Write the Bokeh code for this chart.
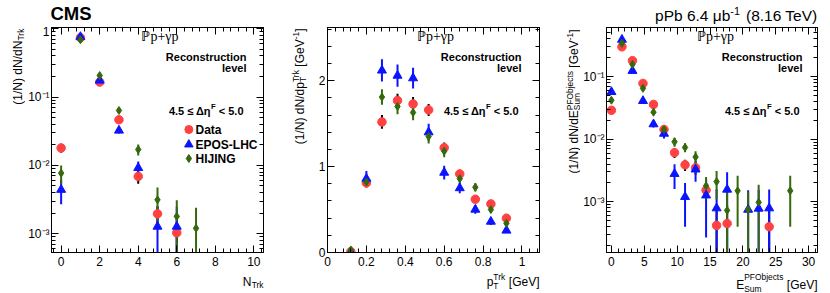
import numpy as np
from bokeh.plotting import figure
from bokeh.layouts import row, column
from bokeh.models import (Label, FixedTicker, LinearAxis, LogAxis, CustomJSTickFormatter,
                          Range1d, LinearScale, ColumnDataSource)
from bokeh.embed import file_html
from bokeh.resources import INLINE

# ---------------- data ----------------
nan = float("nan")

ntrk_x = [0, 1, 2, 3, 4, 5, 6, 7]
ntrk_data = [0.018, 0.74, 0.166, 0.0465, 0.0069, 0.00195, 0.00103, nan]
ntrk_data_err = [0.0027, 0.01, 0.004, 0.002, 0.0015, 0.0006, 0.0006, nan]
ntrk_epos = [0.0044, 0.76, 0.175, 0.0324, 0.0092, 0.00127, 0.00127, nan]
ntrk_epos_err = [0.0017, 0.02, 0.006, 0.003, 0.0022, 0.00118, 0.0012, nan]
ntrk_hij = [0.0077, 0.69, 0.207, 0.0637, 0.0171, 0.00313, 0.00179, 0.0012]
ntrk_hij_err = [0.0023, 0.02, 0.007, 0.004, 0.0032, 0.0016, 0.0013, 0.0012]

pt_x = [0.12, 0.20, 0.28, 0.36, 0.44, 0.52, 0.60, 0.68, 0.76, 0.84, 0.92]
pt_data = [0.01, 0.81, 1.52, 1.77, 1.73, 1.66, 1.22, 0.915, 0.62, 0.566, 0.40]
pt_data_err = [0.01, 0.05, 0.08, 0.08, 0.08, 0.07, 0.06, 0.05, 0.04, 0.04, 0.03]
pt_epos = [0.005, 0.86, 2.12, 2.06, 2.03, 1.40, 0.93, 0.75, 0.50, 0.36, 0.256]
pt_epos_err = [0.02, 0.09, 0.13, 0.13, 0.12, 0.10, 0.08, 0.06, 0.05, 0.04, 0.03]
pt_hij = [0.03, 0.82, 1.81, 1.70, 1.63, 1.35, 1.18, 0.86, 0.76, 0.50, 0.34]
pt_hij_err = [0.02, 0.06, 0.09, 0.09, 0.09, 0.08, 0.07, 0.06, 0.05, 0.04, 0.04]

esum_x = [0.0, 1.6, 3.2, 4.8, 6.4, 8.0, 9.6, 11.2, 12.8, 14.4, 16.0, 17.6,
          19.2, 20.8, 22.4, 24.0, 25.6, 27.2]
esum_data = [0.029, 0.30, 0.18, 0.078, 0.036, 0.0143, 0.0061, 0.0039, 0.0035, 0.00153,
             0.00042, 0.00045, nan, nan, nan, 0.0004, nan, nan]
esum_data_err = [0.002, 0.01, 0.006, 0.003, 0.0015, 0.0008, 0.0011, 0.0008, 0.0008, 0.0004,
                 0.0004, 0.00045, nan, nan, nan, 0.0004, nan, nan]
esum_epos = [0.057, 0.39, 0.124, 0.041, 0.0174, 0.0123, 0.0028, 0.0012, 0.0033, 0.00127,
             0.00079, 0.00157, nan, 0.00075, 0.00078, 0.00079, nan, nan]
esum_epos_err = [0.004, 0.02, 0.008, 0.004, 0.002, 0.002, 0.0012, 0.0008, 0.0012, 0.001,
                 0.0008, 0.0014, nan, 0.00078, 0.00078, 0.00078, nan, nan]
esum_hij = [0.042, 0.34, 0.157, 0.065, 0.027, 0.0143, 0.0091, 0.0074, 0.0052, 0.0018,
            0.0021, 0.00073, 0.0015, 0.00075, 0.00098, nan, nan, 0.0015]
esum_hij_err = [0.003, 0.01, 0.006, 0.004, 0.002, 0.0015, 0.0015, 0.0012, 0.0012, 0.0007,
                0.001, 0.0007, 0.0011, 0.0007, 0.0009, nan, nan, 0.0011]

series_names = ["Data", "EPOS-LHC", "HIJING"]

# tick values
ntrk_ticks = [0, 2, 4, 6, 8, 10]
pt_ticks = [0, 0.2, 0.4, 0.6, 0.8, 1.0]
pt_yticks = [0, 1, 2]
esum_ticks = [0, 5, 10, 15, 20, 25, 30]
log_ticks = [1e-3, 1e-2, 1e-1, 1.0]

# ---------------- styling / layout constants ----------------
RED = "#ff4141"
BLUE = "#0a14ff"
GREEN = "#356a0c"
FONT = "Liberation Sans"
W = 830
HDR_H = 24          # header strip height
MID_H = 246         # panel row height
XL_H = 293 - HDR_H - MID_H
FT = 27             # frame top (page y)
FB = 252            # frame bottom (page y)
MID_BOTTOM = HDR_H + MID_H

AW = {' ': 278, '(': 333, ')': 333, '/': 278, '[': 278, ']': 278, '-': 333, '.': 278,
      '<': 584, 'N': 722, 'T': 611, 'G': 778, 'V': 667, 'E': 667, 'S': 667, 'P': 667,
      'F': 611, 'O': 778, 'd': 556, 'r': 333, 'k': 500, 'p': 556, 'e': 556, 'u': 556,
      'm': 833, 'b': 556, 'j': 222, 'c': 500, 't': 278, 's': 500, 'μ': 576}


def tw(s, size):
    return sum(AW.get(c, 556) for c in s) / 1000.0 * size


log_minor = [m * 10.0 ** k for k in range(-4, 1) for m in range(2, 10)]

LOG_CODE = """
const e = Math.round(Math.log10(tick));
if (e == 0) { return "1"; }
const sup = {"-": "\\u207b", "0": "\\u2070", "1": "\\u00b9", "2": "\\u00b2", "3": "\\u00b3", "4": "\\u2074"};
return "10" + String(e).split("").map(c => sup[c]).join("");
"""
DEC_CODE = "return (Math.round(tick*10)/10).toString();"
EMPTY_CODE = "return '';"


def style_axis(ax, ticker, code=None, labels=True, standoff=4):
    ax.ticker = ticker
    ax.major_tick_in = 7
    ax.major_tick_out = 0
    ax.minor_tick_in = 4
    ax.minor_tick_out = 0
    ax.axis_line_color = "black"
    ax.major_tick_line_color = "black"
    ax.minor_tick_line_color = "black"
    ax.major_label_text_font = FONT
    ax.major_label_text_font_size = "12px"
    ax.major_label_text_color = "black"
    ax.major_label_standoff = standoff
    ax.axis_label = None
    if code is not None:
        ax.formatter = CustomJSTickFormatter(code=code)
    if not labels:
        ax.formatter = CustomJSTickFormatter(code=EMPTY_CODE)
        ax.major_label_text_font_size = "1px"
        ax.major_label_standoff = 0


def make_panel(width, bl, br, xr, yr, ylog, xt, xminor, yt, yminor, xcode=None, ycode=None):
    p = figure(width=width, height=MID_H, x_range=Range1d(*xr), y_range=Range1d(*yr),
               y_axis_type="log" if ylog else "linear", output_backend="svg",
               toolbar_location=None, min_border_left=bl, min_border_right=br,
               min_border_top=FT - HDR_H, min_border_bottom=MID_BOTTOM - FB)
    p.grid.visible = False
    p.outline_line_color = "black"
    p.outline_line_width = 1
    top = LinearAxis()
    right = LogAxis() if ylog else LinearAxis()
    p.add_layout(top, "above")
    p.add_layout(right, "right")
    style_axis(p.below[0], FixedTicker(ticks=xt, minor_ticks=xminor), xcode, standoff=4)
    style_axis(top, FixedTicker(ticks=xt, minor_ticks=xminor), None, labels=False)
    style_axis(p.left[0], FixedTicker(ticks=yt, minor_ticks=yminor), ycode, standoff=2)
    style_axis(right, FixedTicker(ticks=yt, minor_ticks=yminor), None, labels=False)
    return p


def text_strip(width, height):
    f = figure(width=width, height=height, x_range=Range1d(0, 1), y_range=Range1d(0, 1),
               output_backend="svg", toolbar_location=None, min_border=0,
               x_axis_location=None, y_axis_location=None)
    f.grid.visible = False
    f.outline_line_color = None
    return f


def add_series(p, xs, sets):
    srcs = []
    for (y, e, color, bar) in sets:
        x = np.asarray(xs, float)
        y = np.asarray(y, float)
        e = np.asarray(e, float)
        src = ColumnDataSource(dict(x=x, y=y, lo=np.maximum(y - e, 1e-7), hi=y + e))
        p.segment(x0="x", y0="lo", x1="x", y1="hi", source=src, line_color=bar, line_width=2)
        srcs.append(src)
    markers = [("circle", 8.5, RED), ("triangle", 9, BLUE), ("diamond", 8, GREEN)]
    for src, (mk, sz, col) in zip(srcs, markers):
        p.scatter(x="x", y="y", source=src, marker=mk, size=sz, fill_color=col, line_color=col)


def T(f, left, bottom, px, py, text, size, bold=False, align="left", baseline="middle",
      angle=0.0, font=FONT):
    """Place text at page coords (px, py) in figure f whose frame starts at (left, bottom)."""
    f.add_layout(Label(x=px - left, y=bottom - py, x_units="screen", y_units="screen", text=text,
                       text_font=font, text_font_size=f"{size}px",
                       text_font_style="bold" if bold else "normal",
                       text_align=align, text_baseline=baseline, angle=angle,
                       text_color="black"))


def vtitle(f, left, top_y, xm, pieces):
    """Rotated (reading upward) composite title; groups listed from the top end down.
    Pieces in a group share one slot (sub/superscripts)."""
    y = top_y
    for grp in pieces:
        slot = max(tw(t, s) for (t, s, dx) in grp)
        for (t, s, dx) in grp:
            w = tw(t, s)
            cy = y + slot - w / 2.0
            if t.strip():
                # the strip frames are aligned with the panel frames (bottom at FB)
                T(f, left, FB, xm + dx, cy, t, s, align="center", angle=ROT)
        y += slot


ROT = np.pi / 2
S = 12
SS = 8.4

# ---------------- strips / panels positions ----------------
YL1_L, YL1_W = 0, 25
P1_L = YL1_L + YL1_W
FL1, FR1 = 50, 263
YL2_L = 270
YL2_W = 39
P2_L = YL2_L + YL2_W
FL2, FR2 = 327, 539
YL3_L = 548
YL3_W = 32
P3_L = YL3_L + YL3_W
FL3, FR3 = 603, 817

# ---------------- panel 1 ----------------
p1 = make_panel(YL2_L - P1_L, FL1 - P1_L, YL2_L - FR1, (-0.5, 10.5), (5.3e-4, 1.045), True,
                ntrk_ticks, [round(-0.4 + 0.4 * i, 2) for i in range(28)],
                log_ticks, log_minor, None, LOG_CODE)
add_series(p1, ntrk_x, [(ntrk_data, ntrk_data_err, RED, "black"),
                        (ntrk_epos, ntrk_epos_err, BLUE, BLUE),
                        (ntrk_hij, ntrk_hij_err, GREEN, GREEN)])

# ---------------- panel 2 ----------------
p2 = make_panel(YL3_L - P2_L, FL2 - P2_L, YL3_L - FR2, (0, 1.09), (0, 2.62), False,
                pt_ticks, [round(0.04 * i, 2) for i in range(28)],
                pt_yticks, [round(0.2 * i, 1) for i in range(14)], DEC_CODE, None)
add_series(p2, pt_x, [(pt_data, pt_data_err, RED, "black"),
                      (pt_epos, pt_epos_err, BLUE, BLUE),
                      (pt_hij, pt_hij_err, GREEN, GREEN)])

# ---------------- panel 3 ----------------
p3 = make_panel(W - P3_L, FL3 - P3_L, W - FR3, (-0.75, 31.35), (1.55e-4, 0.61), True,
                esum_ticks, list(range(0, 32)),
                log_ticks, log_minor, None, LOG_CODE)
add_series(p3, esum_x, [(esum_data, esum_data_err, RED, "black"),
                        (esum_epos, esum_epos_err, BLUE, BLUE),
                        (esum_hij, esum_hij_err, GREEN, GREEN)])

# ---------------- texts inside panels ----------------
for p, fl, fr in [(p1, FL1, FR1), (p2, FL2, FR2), (p3, FL3, FR3)]:
    T(p, fl, FB, (fl + fr) / 2 + 2, 35.5, "\u2119p+\u03b3p", 14, font="Liberation Serif", align="center")
    T(p, fl, FB, fr - 18, 56, "Reconstruction", 11, bold=True, align="right")
    T(p, fl, FB, fr - 18, 67.5, "level", 11, bold=True, align="right")
    R = fr - 21
    T(p, fl, FB, R, 110, "< 5.0", 11, bold=True, align="right")
    T(p, fl, FB, R - tw(" < 5.0", 11), 106, "F", 7.7, bold=True, align="right")
    T(p, fl, FB, R - tw(" < 5.0", 11) - tw("F", 7.7), 110, "4.5 \u2264 \u0394\u03b7", 11,
      bold=True, align="right")

# legend (panel 1)
p1.extra_x_ranges = {"px": Range1d(0, FR1 - FL1)}
p1.extra_y_ranges = {"py": Range1d(0, FB - FT)}
p1.extra_x_scales = {"px": LinearScale()}
p1.extra_y_scales = {"py": LinearScale()}
leg_rows = [129, 144, 158]
leg_marks = [("circle", 8, RED), ("triangle", 8.5, BLUE), ("diamond", 8, GREEN)]
for name, py, (mk, sz, col) in zip(series_names, leg_rows, leg_marks):
    p1.scatter(x=[188 - FL1], y=[FB - py], marker=mk, size=sz, fill_color=col, line_color=col,
               x_range_name="px", y_range_name="py")
    T(p1, FL1, FB, 194, py, name, 12, bold=True)

# ---------------- header strip ----------------
hdr = text_strip(W, HDR_H)
T(hdr, 0, HDR_H, 50, 12.5, "CMS", 18.5, bold=True)
hs = 15.5
hr = FR3
T(hdr, 0, HDR_H, hr, 15, "(8.16 TeV)", hs, align="right")
hr -= tw(" (8.16 TeV)", hs)
T(hdr, 0, HDR_H, hr, 10, "-1", round(hs * 0.7, 1), align="right")
hr -= tw("-1", hs * 0.7)
T(hdr, 0, HDR_H, hr, 15, "pPb 6.4 \u03bcb", hs, align="right")

# ---------------- x-title strip ----------------
xl = text_strip(W, XL_H)
B = 293
T(xl, 0, B, FR1, 284, "Trk", SS, align="right", baseline="alphabetic")
T(xl, 0, B, FR1 - tw("Trk", SS), 281, "N", S, align="right", baseline="alphabetic")

xr = FR2
T(xl, 0, B, xr, 281, "[GeV]", S, align="right", baseline="alphabetic")
xr -= tw(" [GeV]", S) + tw("Trk", SS)
T(xl, 0, B, xr, 285, "T", SS, baseline="alphabetic")
T(xl, 0, B, xr, 276.5, "Trk", SS, baseline="alphabetic")
T(xl, 0, B, xr, 281, "p", S, align="right", baseline="alphabetic")

xr = FR3
T(xl, 0, B, xr, 284, "[GeV]", S, align="right", baseline="alphabetic")
xr -= tw(" [GeV]", S) + tw("PFObjects", SS)
T(xl, 0, B, xr, 288.5, "Sum", SS, baseline="alphabetic")
T(xl, 0, B, xr, 276.5, "PFObjects", SS, baseline="alphabetic")
T(xl, 0, B, xr, 284, "E", S, align="right", baseline="alphabetic")

# ---------------- y-title strips (rotated, aligned to the top) ----------------
yl1 = text_strip(YL1_W, MID_H)
vtitle(yl1, YL1_L, 28, 17, [
    [("Trk", SS, 3)],
    [("(1/N) dN/dN", S, 0)],
])

yl2 = text_strip(YL2_W, MID_H)
vtitle(yl2, YL2_L, 28, 299, [
    [("]", S, 0)],
    [("-1", SS, -4)],
    [("[GeV", S, 0)],
    [(" ", S, 0)],
    [("Trk", SS, -4), ("T", SS, 3)],
    [("(1/N) dN/dp", S, 0)],
])

yl3 = text_strip(YL3_W, MID_H)
vtitle(yl3, YL3_L, 29, 573, [
    [("]", S, 0)],
    [("-1", SS, -4)],
    [("[GeV", S, 0)],
    [(" ", S, 0)],
    [("PFObjects", SS, -4), ("Sum", SS, 3)],
    [("(1/N) dN/dE", S, 0)],
])

layout = column(hdr, row(yl1, p1, yl2, p2, yl3, p3), xl)
open("out.html", "w").write(file_html(layout, INLINE))
